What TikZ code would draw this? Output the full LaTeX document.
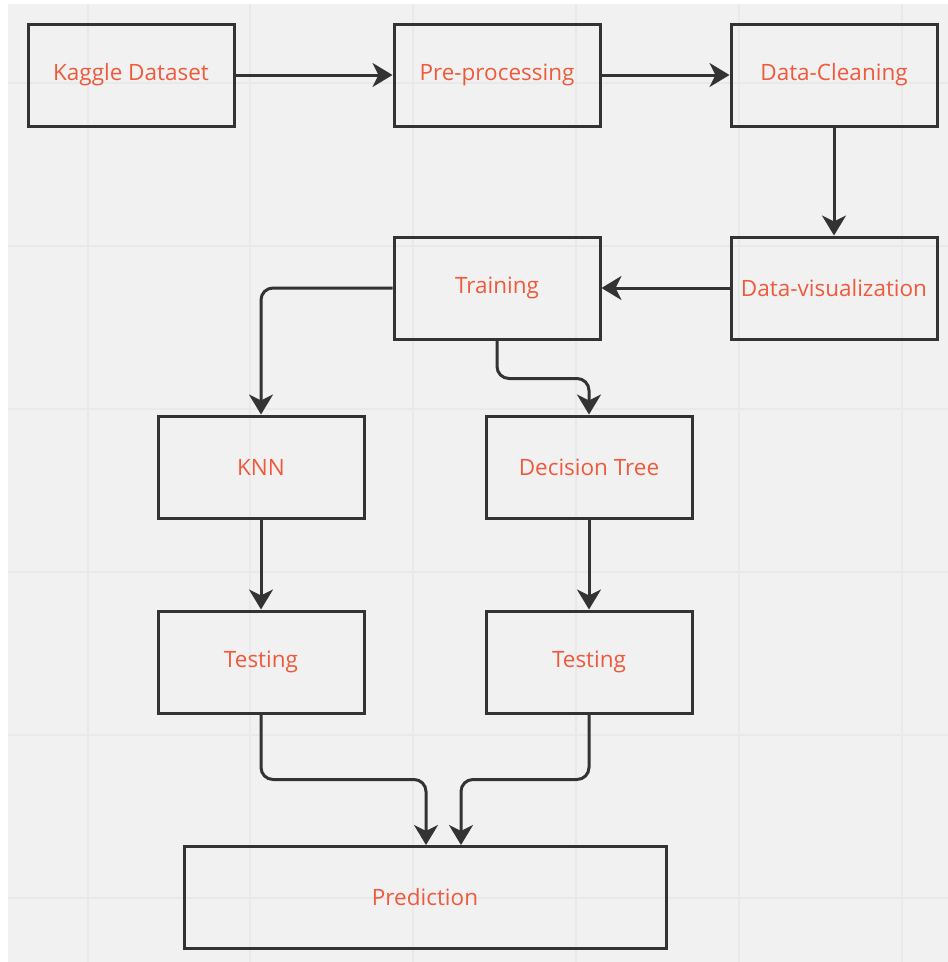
\documentclass[tikz,border=0pt]{standalone}
\usepackage{fontspec}
\setmainfont{Open Sans}
\usetikzlibrary{arrows.meta}
\definecolor{bgc}{HTML}{F1F1F1}
\definecolor{gridc}{HTML}{E9E9E9}
\definecolor{linec}{HTML}{333333}
\definecolor{txtc}{HTML}{F05A3C}
\tikzset{
  box/.style={draw=linec, line width=3pt, minimum width=206pt, minimum height=102pt, inner sep=0pt,
    text=txtc, font=\fontsize{22.5}{24}\selectfont},
  conn/.style={draw=linec, line width=3pt, rounded corners=12pt,
    -{Stealth[length=20pt,width=24pt,inset=6pt]}}
}
\begin{document}
\begin{tikzpicture}[x=1pt,y=-1pt]
\useasboundingbox (0,0) rectangle (948,962);
\fill[white] (0,0) rectangle (948,962);
\fill[bgc] (8,4) rectangle (948,962);
\foreach \gx in {88,250,413,576,739,902} \draw[gridc, line width=1.2pt] (\gx,4) -- (\gx,962);
\foreach \gy in {83,246,409,572,735,898} \draw[gridc, line width=1.2pt] (8,\gy) -- (948,\gy);

\node[box] (kag) at (131,75) {Kaggle Dataset};
\node[box] (pre) at (497,75) {Pre-processing};
\node[box] (cln) at (834,75) {Data-Cleaning};
\node[box] (vis) at (834,288) {Data-visualization};
\node[box] (trn) at (497,288) {Training};
\node[box] (knn) at (261,467) {KNN};
\node[box] (dt)  at (589,467) {Decision Tree};
\node[box] (tl)  at (261,662) {Testing};
\node[box] (tr)  at (589,662) {Testing};
\node[box, minimum width=482pt] (pred) at (425,897) {Prediction};

\coordinate (p1) at (426,845);
\coordinate (p2) at (461,845);

\draw[conn] (kag) -- (pre);
\draw[conn] (pre) -- (cln);
\draw[conn] (cln) -- (vis);
\draw[conn] (vis) -- (trn);
\draw[conn] (trn.west) -| (knn.north);
\draw[conn] (trn.south) -- ++(0,38) -| (dt.north);
\draw[conn] (knn) -- (tl);
\draw[conn] (dt) -- (tr);
\draw[conn] (tl.south) -- ++(0,65) -| (p1);
\draw[conn] (tr.south) -- ++(0,65) -| (p2);
\end{tikzpicture}
\end{document}
